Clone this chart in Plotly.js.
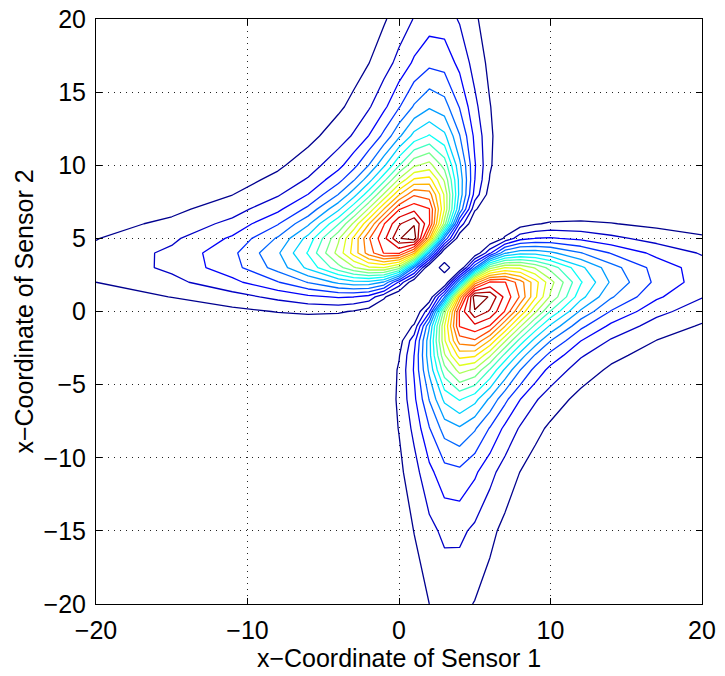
<!DOCTYPE html>
<html>
<head>
<meta charset="utf-8">
<script src="https://cdn.plot.ly/plotly-3.0.1.min.js"></script>
<style>
  html, body { margin: 0; padding: 0; background: #fff; }
  #chart { width: 725px; height: 676px; }
</style>
</head>
<body>
<div id="chart"></div>
<script>
// Grid positions (x-coordinate of sensor 1 / sensor 2)
const sensor1X = [-20, -15, -11, -8, -6, -4, -3, -2, -1, 0, 1, 2, 3, 4, 5, 6, 7, 8, 9, 10, 12, 14, 17, 20];
const sensor2X = [-20, -15, -11, -8, -6, -4, -3, -2, -1, 0, 1, 2, 3, 4, 5, 6, 7, 8, 9, 10, 12, 14, 17, 20];

// Estimated (relative) surface values, one row per sensor-2 position
const infoValues = [
  [0,0,0,0,0.001,0.003,0.005,0.009,0.016,0.027,0.044,0.065,0.078,0.077,0.063,0.046,0.031,0.021,0.015,0.010,0.005,0.003,0.002,0.001],
  [0,0,0,0,0.001,0.004,0.006,0.012,0.022,0.039,0.066,0.099,0.123,0.123,0.103,0.076,0.053,0.037,0.026,0.018,0.010,0.006,0.003,0.002],
  [0,0,0,0,0.001,0.004,0.007,0.014,0.028,0.053,0.094,0.147,0.189,0.196,0.168,0.127,0.091,0.064,0.045,0.033,0.018,0.011,0.006,0.003],
  [0,0,0,0,0,0.003,0.007,0.015,0.032,0.067,0.125,0.205,0.275,0.296,0.261,0.204,0.149,0.107,0.077,0.057,0.032,0.020,0.011,0.007],
  [0.001,0.001,0.001,0,0,0.001,0.005,0.013,0.033,0.073,0.149,0.258,0.362,0.403,0.367,0.294,0.220,0.161,0.118,0.088,0.051,0.032,0.018,0.011],
  [0.003,0.004,0.004,0.003,0.001,0,0.001,0.007,0.025,0.071,0.165,0.314,0.475,0.559,0.533,0.442,0.341,0.256,0.192,0.145,0.088,0.057,0.033,0.021],
  [0.005,0.006,0.007,0.007,0.005,0.001,0,0.003,0.017,0.061,0.161,0.334,0.534,0.655,0.645,0.549,0.431,0.330,0.250,0.192,0.118,0.077,0.045,0.029],
  [0.009,0.012,0.014,0.015,0.013,0.007,0.003,0,0.007,0.042,0.142,0.335,0.581,0.754,0.773,0.679,0.547,0.426,0.330,0.256,0.161,0.107,0.064,0.042],
  [0.016,0.022,0.028,0.032,0.033,0.025,0.017,0.007,0,0.017,0.073,0.298,0.588,0.829,0.860,0.823,0.684,0.547,0.431,0.341,0.220,0.149,0.091,0.060],
  [0.027,0.039,0.053,0.067,0.073,0.071,0.061,0.042,0.017,0,0.010,0.150,0.520,0.833,0.965,0.915,0.823,0.679,0.549,0.442,0.294,0.204,0.127,0.086],
  [0.044,0.066,0.094,0.125,0.149,0.165,0.161,0.142,0.073,0.010,0,0.020,0.250,0.697,1.000,0.965,0.860,0.773,0.645,0.533,0.367,0.261,0.168,0.115],
  [0.065,0.099,0.147,0.205,0.258,0.314,0.334,0.335,0.298,0.150,0.020,0,0,0.300,0.697,0.833,0.829,0.754,0.655,0.559,0.403,0.296,0.196,0.137],
  [0.078,0.123,0.189,0.275,0.362,0.475,0.534,0.581,0.588,0.520,0.250,0,0,0,0.250,0.520,0.588,0.581,0.534,0.475,0.362,0.275,0.189,0.136],
  [0.077,0.123,0.196,0.296,0.403,0.559,0.655,0.754,0.829,0.833,0.697,0.300,0,0,0.020,0.150,0.298,0.335,0.334,0.314,0.258,0.205,0.147,0.108],
  [0.063,0.103,0.168,0.261,0.367,0.533,0.645,0.773,0.860,0.965,1.000,0.697,0.250,0.020,0,0.010,0.073,0.142,0.161,0.165,0.149,0.125,0.094,0.072],
  [0.046,0.076,0.127,0.204,0.294,0.442,0.549,0.679,0.823,0.915,0.965,0.833,0.520,0.150,0.010,0,0.017,0.042,0.061,0.071,0.073,0.067,0.053,0.042],
  [0.031,0.053,0.091,0.149,0.220,0.341,0.431,0.547,0.684,0.823,0.860,0.829,0.588,0.298,0.073,0.017,0,0.007,0.017,0.025,0.033,0.032,0.028,0.023],
  [0.021,0.037,0.064,0.107,0.161,0.256,0.330,0.426,0.547,0.679,0.773,0.754,0.581,0.335,0.142,0.042,0.007,0,0.003,0.007,0.013,0.015,0.014,0.012],
  [0.015,0.026,0.045,0.077,0.118,0.192,0.250,0.330,0.431,0.549,0.645,0.655,0.534,0.334,0.161,0.061,0.017,0.003,0,0.001,0.005,0.007,0.007,0.007],
  [0.010,0.018,0.033,0.057,0.088,0.145,0.192,0.256,0.341,0.442,0.533,0.559,0.475,0.314,0.165,0.071,0.025,0.007,0.001,0,0.001,0.003,0.004,0.004],
  [0.005,0.010,0.018,0.032,0.051,0.088,0.118,0.161,0.220,0.294,0.367,0.403,0.362,0.258,0.149,0.073,0.033,0.013,0.005,0.001,0,0,0.001,0.001],
  [0.003,0.006,0.011,0.020,0.032,0.057,0.077,0.107,0.149,0.204,0.261,0.296,0.275,0.205,0.125,0.067,0.032,0.015,0.007,0.003,0,0,0,0],
  [0.002,0.003,0.006,0.011,0.018,0.033,0.045,0.064,0.091,0.127,0.168,0.196,0.189,0.147,0.094,0.053,0.028,0.014,0.007,0.004,0.001,0,0,0],
  [0.001,0.002,0.003,0.007,0.011,0.021,0.029,0.042,0.060,0.086,0.115,0.137,0.136,0.108,0.072,0.042,0.023,0.012,0.007,0.004,0.001,0,0,0]
];

// small isolated bump at the centre of the gap between the lobes
const bumpX = [2.5, 3, 3.5];
const bumpY = [2.5, 3, 3.5];
const bumpValues = [
  [0, 0, 0],
  [0, 1, 0],
  [0, 0, 0]
];
const bumpLevel = 0.3;

const levelStart = 0.065;
const levelEnd = 0.97;
const levelStep = 0.0476;

const xTicks = [-20, -10, 0, 10, 20];
const yTicks = [-20, -15, -10, -5, 0, 5, 10, 15, 20];
const xTitle = 'x\u2212Coordinate of Sensor 1';
const yTitle = 'x\u2212Coordinate of Sensor 2';

const jet = [
  [0, '#00008f'], [0.11, '#0000ff'], [0.36, '#00ffff'],
  [0.61, '#ffff00'], [0.86, '#ff0000'], [1, '#800000']
];

const FONT = 'Liberation Sans, Arial, Helvetica, sans-serif';

const trace = {
  type: 'contour',
  x: sensor1X,
  y: sensor2X,
  z: infoValues,
  autocontour: false,
  contours: { coloring: 'lines', start: levelStart, end: levelEnd, size: levelStep, showlabels: false },
  line: { width: 1.3, smoothing: 0 },
  colorscale: jet,
  showscale: false,
  hoverinfo: 'skip'
};

const bumpTrace = {
  type: 'contour',
  x: bumpX,
  y: bumpY,
  z: bumpValues,
  autocontour: false,
  contours: { coloring: 'none', start: bumpLevel, end: bumpLevel, size: 1, showlabels: false },
  line: { width: 1.3, color: '#00008f', smoothing: 0 },
  showscale: false,
  hoverinfo: 'skip'
};

const axisCommon = {
  range: [-20, 20],
  showline: true, linecolor: '#000', linewidth: 1, mirror: 'ticks',
  ticks: 'inside', ticklen: 6, tickwidth: 1, tickcolor: '#000',
  showgrid: true, gridcolor: '#222', gridwidth: 1, griddash: '1px,5px',
  zeroline: false,
  tickfont: { family: FONT, size: 25, color: '#000' },
  ticklabelstandoff: 4
};

const layout = {
  width: 725, height: 676,
  margin: { l: 96, r: 23, t: 19, b: 72 },
  paper_bgcolor: '#fff', plot_bgcolor: '#fff',
  showlegend: false,
  xaxis: Object.assign({}, axisCommon, {
    tickvals: xTicks,
    title: { text: xTitle, font: { family: FONT, size: 25, color: '#000' }, standoff: 5 }
  }),
  yaxis: Object.assign({}, axisCommon, {
    tickvals: yTicks,
    title: { text: yTitle, font: { family: FONT, size: 25, color: '#000' }, standoff: 2 }
  })
};

Plotly.newPlot('chart', [trace, bumpTrace], layout, { staticPlot: true, displayModeBar: false });
</script>
</body>
</html>
